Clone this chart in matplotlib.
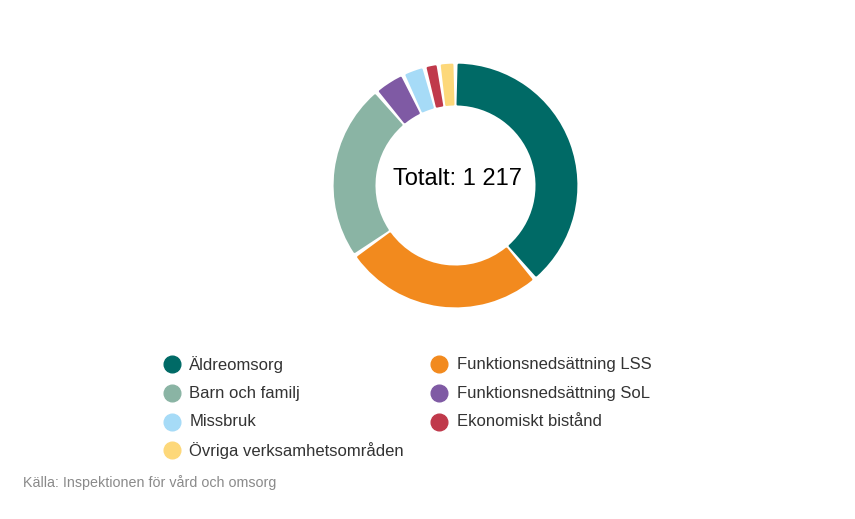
import numpy as np
import matplotlib
matplotlib.use("Agg")
import matplotlib.pyplot as plt
from matplotlib.lines import Line2D

plt.rcParams['font.family'] = ['Liberation Sans', 'DejaVu Sans']

# data (number of cases per area, total 1 217)
categories = ["Äldreomsorg", "Funktionsnedsättning LSS", "Barn och familj",
              "Funktionsnedsättning SoL", "Missbruk", "Ekonomiskt bistånd",
              "Övriga verksamhetsområden"]
values = [472, 323, 286, 50, 36, 23, 27]
colors = ["#006a66", "#f28a1e", "#8ab4a4", "#7f5aa4", "#a6dbf7", "#c0394b", "#fdd87a"]
total_label = "Totalt: 1 217"
source = "Källa: Inspektionen för vård och omsorg"

W, H = 855, 519
fig = plt.figure(figsize=(W / 100, H / 100), dpi=100)

# donut placement (pixels)
cx, cy, rad = 455.5, 185.5, 122
ax = fig.add_axes([(cx - rad) / W, 1 - (cy + rad) / H, 2 * rad / W, 2 * rad / H])
wedges, _ = ax.pie(values, colors=colors, startangle=90, counterclock=False,
                   radius=1, wedgeprops=dict(width=0.34))
# small gaps and rounded corners: shrink each wedge, outline in its own colour
for w in wedges:
    w.set_theta1(w.theta1 + 1.5)
    w.set_theta2(w.theta2 - 1.5)
    w.set_radius(0.99)
    w.set_width(0.325)
    w.set_edgecolor(w.get_facecolor())
    w.set_linewidth(1.6)
    w.set_joinstyle("round")
ax.set_xlim(-1, 1)
ax.set_ylim(-1, 1)
ax.set_aspect("equal")
ax.axis("off")

fig.text((cx + 2) / W, 1 - 179 / H, total_label, ha="center", va="center",
         fontsize=17, color="black")

# legend laid out as two columns
col_x = [171.7, 439.3]
row_y = [364, 393, 421.5, 450]
for i, (name, c) in enumerate(zip(categories, colors)):
    x = col_x[i % 2]
    y = row_y[i // 2]
    fig.add_artist(Line2D([x / W], [1 - y / H], marker="o", markersize=12,
                          color=c, linestyle="none", transform=fig.transFigure))
    fig.text((x + 17.6) / W, 1 - (y + 0.5) / H, name, ha="left", va="center",
             fontsize=12, color="#333333")

fig.text(23 / W, 1 - 483 / H, source, ha="left", va="center",
         fontsize=10.3, color="#8a8a8a")

fig.savefig("out.png", dpi=100, facecolor="white")
